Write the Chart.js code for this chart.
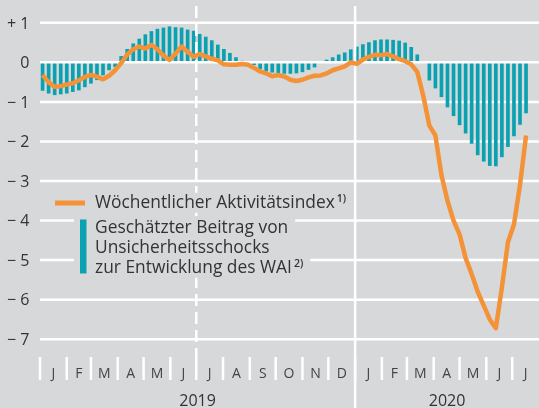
<!DOCTYPE html>
<html><head><meta charset="utf-8">
<script src="https://cdn.jsdelivr.net/npm/chart.js@4.4.1/dist/chart.umd.min.js"></script>
<style>html,body{margin:0;padding:0;background:#d7d8da;}canvas{display:block}</style>
</head><body>
<canvas id="c" width="539" height="408"></canvas>
<script>
// ---- data ----
const weekDates = [
 '2019-01-04','2019-01-11','2019-01-18','2019-01-25','2019-02-01','2019-02-08','2019-02-15','2019-02-22',
 '2019-03-01','2019-03-08','2019-03-15','2019-03-22','2019-03-29','2019-04-05','2019-04-12','2019-04-19',
 '2019-04-26','2019-05-03','2019-05-10','2019-05-17','2019-05-24','2019-05-31','2019-06-07','2019-06-14',
 '2019-06-21','2019-06-28','2019-07-05','2019-07-12','2019-07-19','2019-07-26','2019-08-02','2019-08-09',
 '2019-08-16','2019-08-23','2019-08-30','2019-09-06','2019-09-13','2019-09-20','2019-09-27','2019-10-04',
 '2019-10-11','2019-10-18','2019-10-25','2019-11-01','2019-11-08','2019-11-15','2019-11-22','2019-11-29',
 '2019-12-06','2019-12-13','2019-12-20','2019-12-27','2020-01-03','2020-01-10','2020-01-17','2020-01-24',
 '2020-01-31','2020-02-07','2020-02-14','2020-02-21','2020-02-28','2020-03-06','2020-03-13','2020-03-20',
 '2020-03-27','2020-04-03','2020-04-10','2020-04-17','2020-04-24','2020-05-01','2020-05-08','2020-05-15',
 '2020-05-22','2020-05-29','2020-06-05','2020-06-12','2020-06-19','2020-06-26','2020-07-03','2020-07-10',
 '2020-07-17'];

const activityIndex = [
 -0.32,-0.50,-0.62,-0.60,-0.56,-0.53,-0.45,-0.37,
 -0.32,-0.36,-0.43,-0.34,-0.20,-0.02, 0.20, 0.33,
  0.40, 0.35, 0.44, 0.33, 0.17, 0.06, 0.22, 0.40,
  0.27, 0.14, 0.21, 0.15, 0.09, 0.05,-0.05,-0.06,
 -0.06,-0.04,-0.06,-0.14,-0.23,-0.28,-0.35,-0.32,
 -0.36,-0.44,-0.47,-0.44,-0.38,-0.34,-0.33,-0.28,
 -0.20,-0.15,-0.10, 0.00,-0.04, 0.07, 0.14, 0.19,
  0.18, 0.21, 0.15, 0.08, 0.03,-0.05,-0.24,-0.85,
 -1.60,-1.85,-2.85,-3.50,-4.00,-4.35,-4.95,-5.35,
 -5.80,-6.15,-6.50,-6.72,-5.70,-4.55,-4.10,-3.10,
 -1.85];

const uncertaintyShocks = [
 -0.71,-0.78,-0.82,-0.80,-0.78,-0.74,-0.70,-0.62,
 -0.53,-0.44,-0.32,-0.19,-0.11, 0.15, 0.33, 0.47,
  0.59, 0.70, 0.78, 0.84, 0.87, 0.90, 0.88, 0.87,
  0.82, 0.79, 0.71, 0.64, 0.55, 0.44, 0.33, 0.23,
  0.12, 0.03, 0.00,-0.06,-0.16,-0.22,-0.25,-0.27,
 -0.28,-0.28,-0.27,-0.24,-0.18,-0.12, 0.02, 0.06,
  0.12, 0.19, 0.24, 0.32, 0.39, 0.45, 0.50, 0.55,
  0.57, 0.57, 0.56, 0.54, 0.49, 0.38, 0.19, 0.00,
 -0.45,-0.65,-0.87,-1.13,-1.35,-1.58,-1.79,-2.05,
 -2.34,-2.50,-2.61,-2.62,-2.39,-2.13,-1.86,-1.57,
 -1.28];

const monthStarts = ['2019-01-01','2019-02-01','2019-03-01','2019-04-01','2019-05-01','2019-06-01',
 '2019-07-01','2019-08-01','2019-09-01','2019-10-01','2019-11-01','2019-12-01','2020-01-01',
 '2020-02-01','2020-03-01','2020-04-01','2020-05-01','2020-06-01','2020-07-01','2020-08-01'];
const monthLabels = ['J','F','M','A','M','J','J','A','S','O','N','D','J','F','M','A','M','J','J'];
const yearLabels = ['2019','2020'];
const yearStarts = ['2019-01-01','2020-01-01','2020-08-01'];
const dashedDate = '2019-07-01';
const yTicks = [1,0,-1,-2,-3,-4,-5,-6,-7];
const legendLine = 'Wöchentlicher Aktivitätsindex';
const legendLineNote = '1)';
const legendBarLines = ['Geschätzter Beitrag von','Unsicherheitsschocks','zur Entwicklung des WAI'];
const legendBarNote = '2)';

// ---- style ----
const BG = '#d7d8da', ORANGE = '#f39237', TEAL = '#0aa1b1', TXT = '#333333';
const FONT = '"Open Sans", "Noto Sans", sans-serif';
const dayOf = s => (Date.parse(s) - Date.parse('2019-01-01')) / 86400000;

const lineData = weekDates.map((d, i) => ({x: dayOf(d), y: activityIndex[i]}));
const barData = weekDates.map((d, i) => ({x: dayOf(d), y: uncertaintyShocks[i]}));

function yLabel(v){ return v > 0 ? '+ ' + v : (v < 0 ? '\u2212 ' + (-v) : '0'); }

function hLine(c, a, py){ c.beginPath(); c.moveTo(a.left, py); c.lineTo(a.right, py); c.stroke(); }

const decor = {
  id: 'decor',
  beforeDraw(chart){
    const c = chart.ctx; c.save(); c.fillStyle = BG; c.fillRect(0,0,chart.width,chart.height); c.restore();
  },
  beforeDatasetsDraw(chart){
    const c = chart.ctx, a = chart.chartArea, y = chart.scales.y;
    c.save(); c.strokeStyle = '#ffffff'; c.lineWidth = 2.5;
    yTicks.forEach(v => { if (v !== 0) hLine(c, a, y.getPixelForValue(v)); });
    c.restore();
  },
  afterDatasetDraw(chart, args){
    if (args.index !== 1) return;
    const c = chart.ctx, a = chart.chartArea, x = chart.scales.x, y = chart.scales.y;
    c.save(); c.strokeStyle = '#ffffff'; c.lineWidth = 2.5;
    hLine(c, a, y.getPixelForValue(0));
    const xd = x.getPixelForValue(dayOf(dashedDate));
    c.setLineDash([12,6]); c.beginPath(); c.moveTo(xd, a.top + 1); c.lineTo(xd, a.bottom); c.stroke(); c.setLineDash([]);
    const xs = x.getPixelForValue(dayOf(yearStarts[1]));
    c.beginPath(); c.moveTo(xs, a.top + 1); c.lineTo(xs, chart.height); c.stroke();
    c.restore();
  },
  afterDraw(chart){
    const c = chart.ctx, a = chart.chartArea, x = chart.scales.x, y = chart.scales.y;
    c.save();
    // y labels
    c.fillStyle = TXT; c.font = '16px ' + FONT; c.textAlign = 'right'; c.textBaseline = 'alphabetic';
    yTicks.forEach(v => c.fillText(yLabel(v), 29.5, y.getPixelForValue(v) + 5.8));
    // month ticks + labels
    c.strokeStyle = '#ffffff'; c.lineWidth = 2.5;
    for (let i = 0; i < monthLabels.length; i++){
      const px = x.getPixelForValue(dayOf(monthStarts[i]));
      c.beginPath(); c.moveTo(px, a.bottom); c.lineTo(px, a.bottom + 23); c.stroke();
    }
    c.fillStyle = '#444444'; c.font = '14px ' + FONT; c.textAlign = 'center';
    for (let i = 0; i < monthLabels.length; i++){
      const p0 = x.getPixelForValue(dayOf(monthStarts[i])), p1 = x.getPixelForValue(dayOf(monthStarts[i+1]));
      c.fillText(monthLabels[i], (p0 + p1) / 2, a.bottom + 21);
    }
    c.fillStyle = TXT; c.font = '16px ' + FONT;
    for (let i = 0; i < yearLabels.length; i++){
      const p0 = x.getPixelForValue(dayOf(yearStarts[i])), p1 = x.getPixelForValue(dayOf(yearStarts[i+1]));
      c.fillText(yearLabels[i], (p0 + p1) / 2, 406);
    }
    // legend
    c.textAlign = 'left';
    c.font = '100px ' + FONT;
    const fs = Math.min(18, 100 * 240 / c.measureText(legendLine).width);
    const mainFont = fs.toFixed(2) + 'px ' + FONT, supFont = '600 10.5px ' + FONT;
    const rows = [{t: legendLine, n: legendLineNote, b: 207.7}];
    legendBarLines.forEach((t, i) => rows.push({t, n: i === legendBarLines.length - 1 ? legendBarNote : '', b: 233.3 + i * 19.7}));
    rows.forEach(r => {
      c.font = mainFont; let w = c.measureText(r.t).width;
      let nw = 0; if (r.n){ c.font = supFont; nw = c.measureText(r.n).width + 2; }
      c.fillStyle = BG; c.fillRect(74, r.b - 15, 95 + w + nw + 7 - 74, 20);
      c.fillStyle = TXT; c.font = mainFont; c.fillText(r.t, 95, r.b);
      if (r.n){ c.font = supFont; c.fillText(r.n, 95 + w + 2, r.b - 6); }
    });
    c.fillStyle = ORANGE; c.fillRect(55, 200.5, 30, 5);
    c.fillStyle = TEAL; c.fillRect(80, 219.5, 6.5, 54);
    c.restore();
  }
};

new Chart(document.getElementById('c').getContext('2d'), {
  type: 'bar',
  data: { datasets: [
    { type: 'line', label: legendLine, data: lineData, borderColor: ORANGE, borderWidth: 4.5,
      pointRadius: 0, tension: 0, borderJoinStyle: 'round', borderCapStyle: 'butt', order: 0 },
    { type: 'bar', label: legendBarLines.join(' '), data: barData, backgroundColor: TEAL,
      borderWidth: 0, barThickness: 3, order: 1 }
  ]},
  options: {
    responsive: false, animation: false, devicePixelRatio: 1,
    layout: { padding: { left: 40, right: 0, top: 5, bottom: 51 } },
    scales: {
      x: { type: 'linear', offset: false, grid: { offset: false }, min: 0, max: dayOf('2020-08-01'), display: false },
      y: { type: 'linear', min: -7.45, max: 1.45, display: false }
    },
    plugins: { legend: { display: false }, tooltip: { enabled: false } }
  },
  plugins: [decor]
});
</script>
</body></html>
